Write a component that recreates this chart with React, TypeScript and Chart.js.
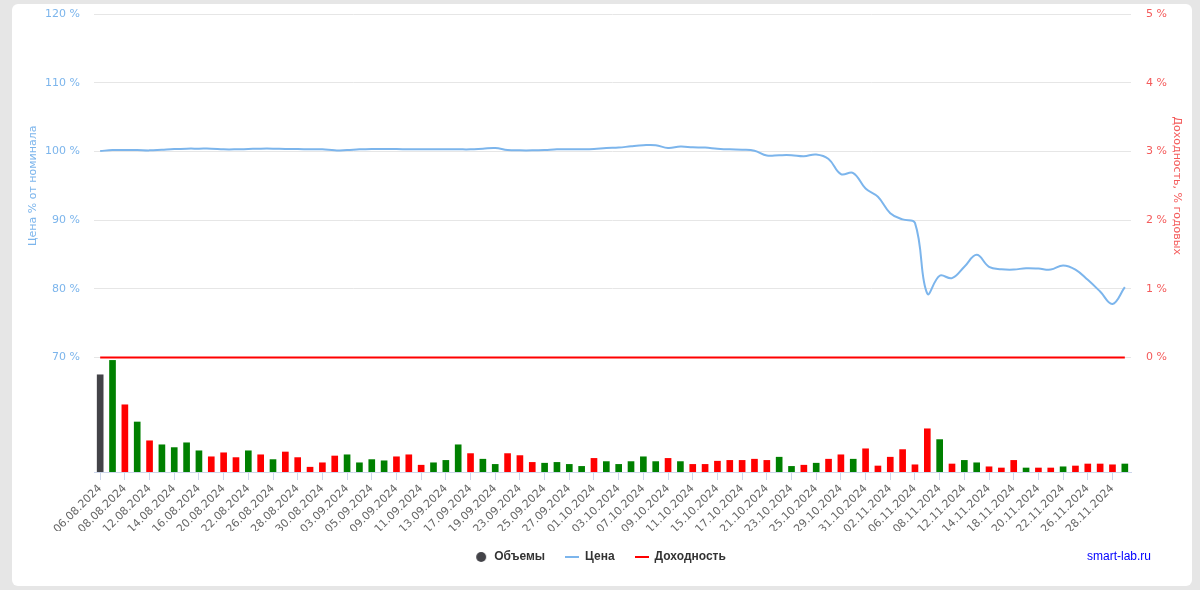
import { useEffect, useRef } from "react";
import { Chart, registerables } from "chart.js";

Chart.register(...registerables);

const categories = [
  "06.08.2024", "07.08.2024", "08.08.2024", "09.08.2024", "12.08.2024", "13.08.2024", "14.08.2024", "15.08.2024", "16.08.2024", "19.08.2024",
  "20.08.2024", "21.08.2024", "22.08.2024", "23.08.2024", "26.08.2024", "27.08.2024", "28.08.2024", "29.08.2024", "30.08.2024", "02.09.2024",
  "03.09.2024", "04.09.2024", "05.09.2024", "06.09.2024", "09.09.2024", "10.09.2024", "11.09.2024", "12.09.2024", "13.09.2024", "16.09.2024",
  "17.09.2024", "18.09.2024", "19.09.2024", "20.09.2024", "23.09.2024", "24.09.2024", "25.09.2024", "26.09.2024", "27.09.2024", "30.09.2024",
  "01.10.2024", "02.10.2024", "03.10.2024", "04.10.2024", "07.10.2024", "08.10.2024", "09.10.2024", "10.10.2024", "11.10.2024", "14.10.2024",
  "15.10.2024", "16.10.2024", "17.10.2024", "18.10.2024", "21.10.2024", "22.10.2024", "23.10.2024", "24.10.2024", "25.10.2024", "28.10.2024",
  "29.10.2024", "30.10.2024", "31.10.2024", "01.11.2024", "02.11.2024", "05.11.2024", "06.11.2024", "07.11.2024", "08.11.2024", "11.11.2024",
  "12.11.2024", "13.11.2024", "14.11.2024", "15.11.2024", "18.11.2024", "19.11.2024", "20.11.2024", "21.11.2024", "22.11.2024", "25.11.2024",
  "26.11.2024", "27.11.2024", "28.11.2024", "29.11.2024",
];

// Price, % of nominal
const price = [
  100.05, 100.2, 100.2, 100.2, 100.15, 100.25, 100.35, 100.4, 100.4, 100.4,
  100.3, 100.3, 100.35, 100.4, 100.4, 100.35, 100.35, 100.3, 100.3, 100.15,
  100.2, 100.3, 100.35, 100.35, 100.35, 100.3, 100.3, 100.3, 100.3, 100.3,
  100.3, 100.4, 100.5, 100.2, 100.15, 100.15, 100.2, 100.3, 100.3, 100.3,
  100.35, 100.5, 100.55, 100.75, 100.9, 100.9, 100.5, 100.7, 100.6, 100.55,
  100.4, 100.3, 100.25, 100.1, 99.4, 99.45, 99.45, 99.3, 99.55, 98.9,
  96.7, 96.85, 94.6, 93.4, 91.0, 90.1, 89.6, 79.3, 81.9, 81.55,
  83.2, 84.95, 83.2, 82.85, 82.8, 83.0, 82.95, 82.8, 83.4, 82.8,
  81.3, 79.6, 77.8, 80.25,
];

// Yield, % annual
const yieldPct = categories.map(() => 0);

// Trading volumes
const volumes = [
  24.3, 27.9, 16.8, 12.5, 7.8, 6.8, 6.1, 7.3, 5.3, 3.8,
  4.8, 3.6, 5.3, 4.3, 3.1, 5.0, 3.6, 1.2, 2.3, 4.0,
  4.3, 2.3, 3.1, 2.8, 3.8, 4.3, 1.7, 2.3, 2.9, 6.8,
  4.6, 3.2, 1.9, 4.6, 4.1, 2.4, 2.2, 2.4, 1.9, 1.4,
  3.4, 2.6, 1.9, 2.6, 3.8, 2.6, 3.4, 2.6, 1.9, 1.9,
  2.7, 2.9, 2.9, 3.2, 2.9, 3.7, 1.4, 1.7, 2.2, 3.2,
  4.3, 3.2, 5.8, 1.5, 3.7, 5.6, 1.8, 10.8, 8.1, 2.0,
  2.9, 2.3, 1.3, 1.0, 2.9, 1.0, 1.0, 1.0, 1.3, 1.5,
  2.0, 2.0, 1.8, 2.0,
];

// 0 = first day, 1 = price up, -1 = price down
const volumeDirection = [
  0, 1, -1, 1, -1, 1, 1, 1, 1, -1,
  -1, -1, 1, -1, 1, -1, -1, -1, -1, -1,
  1, 1, 1, 1, -1, -1, -1, 1, 1, 1,
  -1, 1, 1, -1, -1, -1, 1, 1, 1, 1,
  -1, 1, 1, 1, 1, 1, -1, 1, -1, -1,
  -1, -1, -1, -1, -1, 1, 1, -1, 1, -1,
  -1, 1, -1, -1, -1, -1, -1, -1, 1, -1,
  1, 1, -1, -1, -1, 1, -1, -1, 1, -1,
  -1, -1, -1, 1,
];

const priceTicks = [70, 80, 90, 100, 110, 120];
const yieldTicks = [0, 1, 2, 3, 4, 5];

const seriesNames = ["Объемы", "Цена", "Доходность"];
const leftTitle = "Цена % от номинала";
const rightTitle = "Доходность, % годовых";
const credits = "smart-lab.ru";

const FONT = '"DejaVu Sans", Verdana, sans-serif';
const LEGEND_FONT = '"Liberation Sans", Arial, sans-serif';
const C_PRICE = "#7cb5ec";
const C_YIELD = "#ff0000";
const C_VOL = "#434348";
const C_UP = "#008000";
const C_DOWN = "#ff0000";

function makeSymbol(kind: string, color: string) {
  const c = document.createElement("canvas");
  c.width = 14;
  c.height = 14;
  const g = c.getContext("2d")!;
  g.fillStyle = color;
  if (kind === "circle") {
    g.beginPath();
    g.arc(7, 7, 5, 0, Math.PI * 2);
    g.fill();
  } else {
    g.fillRect(0, 6, 14, 2);
  }
  return c;
}

const decorPlugin = {
  id: "decor",
  afterDraw(chart: any) {
    const { ctx, chartArea, scales } = chart;
    const yP = scales.yPrice;
    const midY = (yP.getPixelForValue(priceTicks[0]) + yP.getPixelForValue(priceTicks[priceTicks.length - 1])) / 2;
    ctx.save();
    ctx.font = "11px " + FONT;
    ctx.textAlign = "center";
    ctx.textBaseline = "middle";
    ctx.fillStyle = C_PRICE;
    ctx.save();
    ctx.translate(chartArea.left - 61, midY);
    ctx.rotate(-Math.PI / 2);
    ctx.fillText(leftTitle, 0, 0);
    ctx.restore();
    ctx.fillStyle = "#f45b5b";
    ctx.save();
    ctx.translate(chartArea.right + 46, midY);
    ctx.rotate(Math.PI / 2);
    ctx.fillText(rightTitle, 0, 0);
    ctx.restore();
    ctx.font = "12px " + LEGEND_FONT;
    ctx.fillStyle = "#0000ff";
    ctx.textAlign = "right";
    ctx.fillText(credits, 1151, 557);
    ctx.restore();
  },
};

export default function App() {
  const ref = useRef<HTMLCanvasElement>(null);

  useEffect(() => {
    const symbols = [makeSymbol("circle", C_VOL), makeSymbol("line", C_PRICE), makeSymbol("line", C_YIELD)];
    const barColors = volumeDirection.map((d) => (d === 0 ? C_VOL : d > 0 ? C_UP : C_DOWN));
    Chart.defaults.font.family = FONT;
    const chart = new Chart(ref.current!, {
      type: "bar",
      data: {
        labels: categories,
        datasets: [
          {
            type: "bar",
            label: seriesNames[0],
            data: volumes,
            backgroundColor: barColors,
            borderWidth: 0,
            barThickness: 6,
            yAxisID: "yVol",
            order: 3,
          } as any,
          {
            type: "line",
            label: seriesNames[1],
            data: price,
            borderColor: C_PRICE,
            backgroundColor: C_PRICE,
            borderWidth: 2,
            pointRadius: 0,
            tension: 0.4,
            yAxisID: "yPrice",
            order: 1,
          },
          {
            type: "line",
            label: seriesNames[2],
            data: yieldPct,
            borderColor: C_YIELD,
            backgroundColor: C_YIELD,
            borderWidth: 2,
            pointRadius: 0,
            tension: 0,
            yAxisID: "yYield",
            order: 2,
          },
        ],
      },
      options: {
        responsive: false,
        animation: false,
        events: [],
        layout: { padding: { top: 14, bottom: 17, left: 0, right: 0 } },
        plugins: {
          tooltip: { enabled: false },
          legend: {
            position: "bottom",
            labels: {
              usePointStyle: true,
              pointStyleWidth: 14,
              boxHeight: 12,
              padding: 20,
              color: "#333333",
              font: { size: 12, weight: "bold", family: LEGEND_FONT },
              generateLabels: (ch: any) =>
                ch.data.datasets.map((ds: any, i: number) => ({
                  text: ds.label,
                  pointStyle: symbols[i],
                  fillStyle: "transparent",
                  strokeStyle: "transparent",
                  lineWidth: 0,
                  hidden: false,
                  datasetIndex: i,
                  fontColor: "#333333",
                })),
            },
          },
        },
        scales: {
          x: {
            type: "category",
            offset: true,
            grid: {
              offset: false,
              drawOnChartArea: false,
              drawTicks: true,
              tickLength: 8,
              color: (c: any) => (c.index % 2 === 0 ? "#ccd6eb" : "rgba(0,0,0,0)"),
            },
            border: { display: true, color: "#ccd6eb" },
            ticks: {
              autoSkip: false,
              maxRotation: 45,
              minRotation: 45,
              padding: 2,
              color: "#666666",
              font: { size: 11 },
              callback: (_v: any, i: number) => (i % 2 === 0 ? categories[i] : ""),
            },
            afterFit: (s: any) => {
              s.height = 59;
            },
          },
          yPrice: {
            type: "linear",
            position: "left",
            min: priceTicks[0] - (priceTicks[priceTicks.length - 1] - priceTicks[0]) / 3,
            max: priceTicks[priceTicks.length - 1],
            afterBuildTicks: (s: any) => {
              s.ticks = priceTicks.map((v) => ({ value: v }));
            },
            grid: { color: "#e6e6e6", drawTicks: true, tickLength: 14, tickColor: "rgba(0,0,0,0)" },
            border: { display: false },
            ticks: {
              color: C_PRICE,
              padding: 0,
              font: { size: 11 },
              callback: (v: any) => v + " %",
            },
            afterFit: (s: any) => {
              s.width = 94;
            },
          },
          yYield: {
            type: "linear",
            position: "right",
            min: yieldTicks[0] - (yieldTicks[yieldTicks.length - 1] - yieldTicks[0]) / 3,
            max: yieldTicks[yieldTicks.length - 1],
            afterBuildTicks: (s: any) => {
              s.ticks = yieldTicks.map((v) => ({ value: v }));
            },
            grid: { drawOnChartArea: false, drawTicks: true, tickLength: 15, tickColor: "rgba(0,0,0,0)", color: "rgba(0,0,0,0)" },
            border: { display: false },
            ticks: {
              color: "#f45b5b",
              padding: 0,
              font: { size: 11 },
              callback: (v: any) => v + " %",
            },
            afterFit: (s: any) => {
              s.width = 69;
            },
          },
          yVol: {
            type: "linear",
            display: false,
            min: 0,
            max: 114.5,
          },
        },
      },
      plugins: [decorPlugin],
    });
    return () => chart.destroy();
  }, []);

  return (
    <div style={{ position: "fixed", left: 0, top: 0, width: 1200, height: 590, background: "#e6e6e6", overflow: "hidden" }}>
      <div style={{ position: "absolute", left: 12, top: 4, width: 1180, height: 582, background: "#ffffff", borderRadius: 6 }} />
      <canvas ref={ref} width={1200} height={590} style={{ position: "absolute", left: 0, top: 0, width: 1200, height: 590 }} />
    </div>
  );
}
